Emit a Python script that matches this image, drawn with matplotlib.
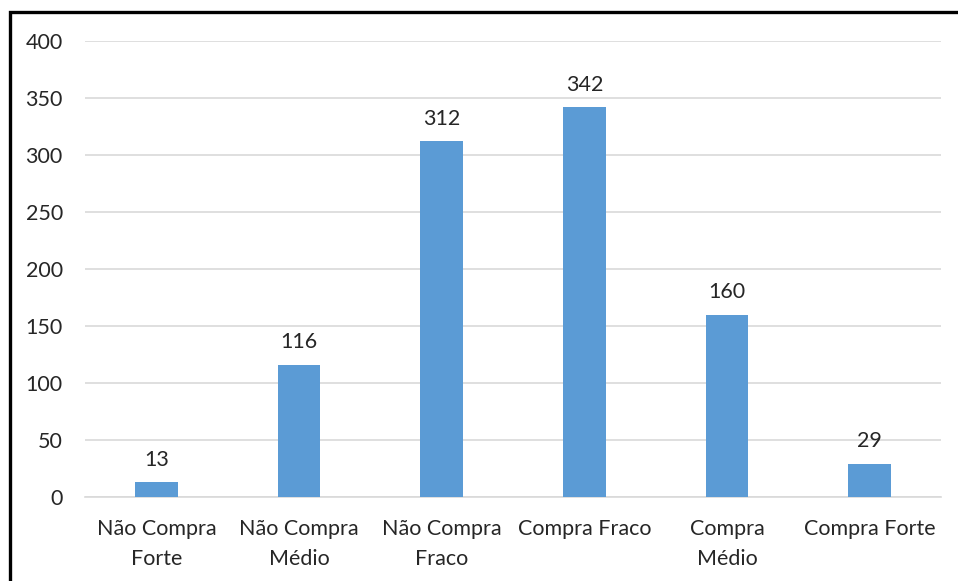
import matplotlib
matplotlib.use("Agg")
import matplotlib.pyplot as plt
from matplotlib.patches import Rectangle

categories = ["Não Compra\nForte", "Não Compra\nMédio", "Não Compra\nFraco",
              "Compra Fraco", "Compra\nMédio", "Compra Forte"]
values = [13, 116, 312, 342, 160, 29]
yticks = [0, 50, 100, 150, 200, 250, 300, 350, 400]

plt.rcParams['font.family'] = ['Lato', 'DejaVu Sans']
txt = '#262626'
fs = 15.5

fig = plt.figure(figsize=(9.58, 5.81), dpi=100)
ax = fig.add_axes([85/958, 1-497/581, (941-85)/958, (497-41)/581])

x = list(range(len(categories)))
ax.bar(x, values, width=0.30, color='#5B9BD5', zorder=3)
for xi, v in zip(x, values):
    ax.annotate(str(v), (xi, v), xytext=(0, 9), textcoords='offset points',
                ha='center', va='bottom', fontsize=fs, color=txt)

ax.set_xlim(-0.5, len(categories)-0.5)
ax.set_ylim(0, 400)
ax.set_yticks(yticks)
ax.set_yticklabels([str(t) for t in yticks], fontsize=fs, color=txt)
ax.set_xticks(x)
ax.set_xticklabels(categories, fontsize=fs, color=txt, linespacing=1.6)
ax.tick_params(axis='both', length=0)
ax.tick_params(axis='x', pad=16)
ax.tick_params(axis='y', pad=16)
ax.grid(axis='y', color='#D9D9D9', linewidth=1.2, zorder=0)
for s in ['top', 'right', 'left']:
    ax.spines[s].set_visible(False)
ax.spines['bottom'].set_color('#D9D9D9')
ax.spines['bottom'].set_linewidth(1.2)

fig.patches.append(Rectangle((10/958, -0.1), 1.2, 1.1 - 12/581 + 0.0,
                             transform=fig.transFigure, fill=False,
                             edgecolor='black', linewidth=2.4))

fig.savefig('out.png', dpi=100)
